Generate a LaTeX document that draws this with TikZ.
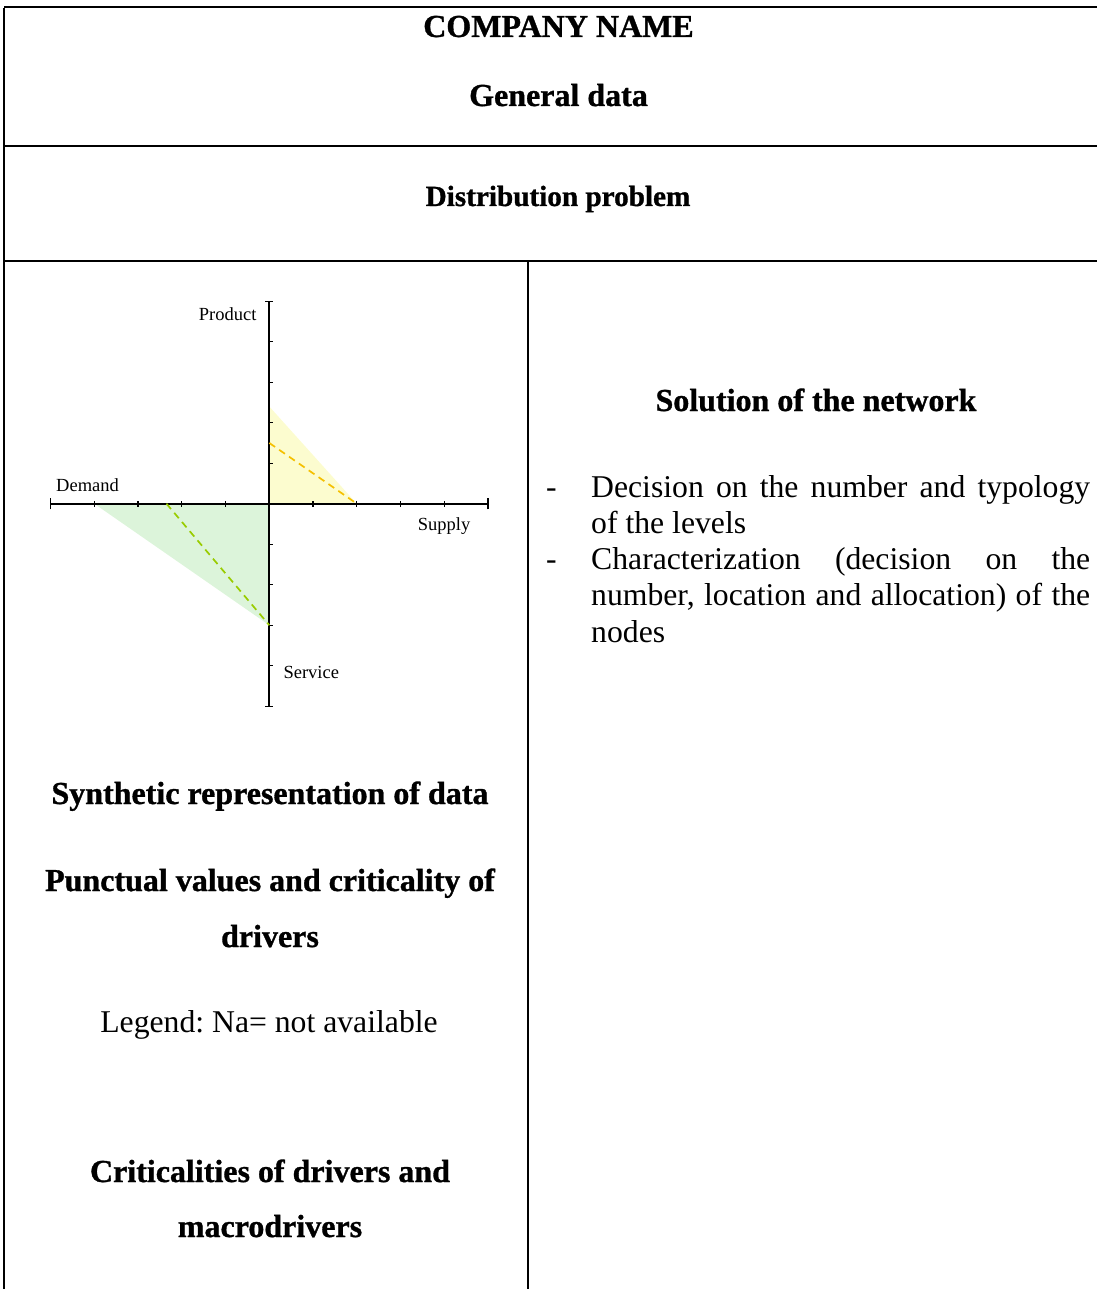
\documentclass[tikz,border=0pt]{standalone}
\usepackage{fontspec}
\setmainfont{Liberation Serif}[BoldFeatures={FakeBold=1}]
\begin{document}
\frenchspacing
\begin{tikzpicture}[x=1pt,y=-1pt,
  rule/.style={line width=1.8pt},
  head/.style={font=\fontsize{32}{38}\selectfont\bfseries, anchor=base, inner sep=0pt},
  body/.style={font=\fontsize{31.7}{36}\selectfont, anchor=base west, inner sep=0pt},
  axislabel/.style={font=\fontsize{18.5}{22}\selectfont, inner sep=0pt},
  axisline/.style={line width=1.9pt},
  tickmark/.style={line width=1.3pt},
  trend/.style={line width=1.7pt, dash pattern=on 7pt off 5pt}]
\definecolor{suppfill}{HTML}{FCFCCF}
\definecolor{servfill}{HTML}{DCF4DA}
\definecolor{suppline}{HTML}{F5C000}
\definecolor{servline}{HTML}{99CC00}
\useasboundingbox (0,0) rectangle (1097,1289);

% table rules
\coordinate (tl) at (4,7);      \coordinate (tr) at (1097,7);
\coordinate (ml) at (4,146);    \coordinate (mr) at (1097,146);
\coordinate (bl) at (4,261);    \coordinate (br) at (1097,261);
\coordinate (lb) at (4,1289);
\coordinate (dt) at (528,261);  \coordinate (db) at (528,1289);
\draw[rule] (tl) -- (tr);
\draw[rule] (ml) -- (mr);
\draw[rule] (bl) -- (br);
\draw[rule] ([yshift=-0.9pt]tl) -- (lb);
\draw[rule] (dt) -- (db);

% headings
\node[head] (company) at (558.5,37) {COMPANY NAME};
\node[head] (general) at (558.5,106) {General data};
\node[head, font=\fontsize{29.2}{35}\selectfont\bfseries] (distrib) at (558,206) {Distribution problem};
\node[head] (synth) at (270,804) {Synthetic representation of data};
\node[head] (punctA) at (270,891) {Punctual values and criticality of};
\node[head] (punctB) at (270,947) {drivers};
\node[body, anchor=base] (legend) at (269,1032) {Legend: Na= not available};
\node[head] (critA) at (270,1182) {Criticalities of drivers and};
\node[head] (critB) at (270,1237) {macrodrivers};
\node[head] (solution) at (816,411) {Solution of the network};

% bullet list
\node[body] (dashA) at (546,497) {-};
\node[body] (itemA1) at (591,497) {\makebox[499pt][s]{Decision on the number and typology}};
\node[body] (itemA2) at (591,533) {of the levels};
\node[body] (dashB) at (546,569) {-};
\node[body] (itemB1) at (591,569) {\makebox[499pt][s]{Characterization (decision on the}};
\node[body] (itemB2) at (591,605) {\makebox[499pt][s]{number, location and allocation) of the}};
\node[body] (itemB3) at (591,642) {nodes};

% four-axis chart
\begin{scope}[shift={(269.3,503.7)}, x=43.75pt, y=40.5pt]
  \fill[suppfill] (0,0) -- (0,2.4) -- (2,0) -- cycle;
  \fill[servfill] (0,0) -- (-4,0) -- (0,-3) -- cycle;
  \coordinate (west) at (-5,0); \coordinate (east) at (5,0);
  \coordinate (north) at (0,5); \coordinate (south) at (0,-5);
  \draw[axisline] (west) -- (east);
  \draw[axisline] (south) -- (north);
  \foreach \i in {-4,-3,-2,-1,1,2,3,4} {
    \draw[tickmark] (\i,-0.07) -- (\i,0.07);
    \draw[tickmark] (0,\i) -- (0.08,\i);
  }
  \foreach \i in {-5,5} {
    \draw[tickmark] (\i,-0.14) -- (\i,0.14);
    \draw[tickmark] (-0.09,\i) -- (0.09,\i);
  }
  \coordinate (suppA) at (0,1.5);    \coordinate (suppB) at (2,0);
  \coordinate (servA) at (-2.35,0);  \coordinate (servB) at (0,-3);
  \draw[trend, suppline] (suppA) -- (suppB);
  \draw[trend, servline] (servA) -- (servB);
\end{scope}
\node[axislabel, anchor=base east] (product) at (256.7,320) {Product};
\node[axislabel, anchor=base west] (demand) at (56,491.5) {Demand};
\node[axislabel, anchor=base west] (supply) at (417.7,530) {Supply};
\node[axislabel, anchor=base west] (service) at (283.3,678) {Service};
\end{tikzpicture}
\end{document}
